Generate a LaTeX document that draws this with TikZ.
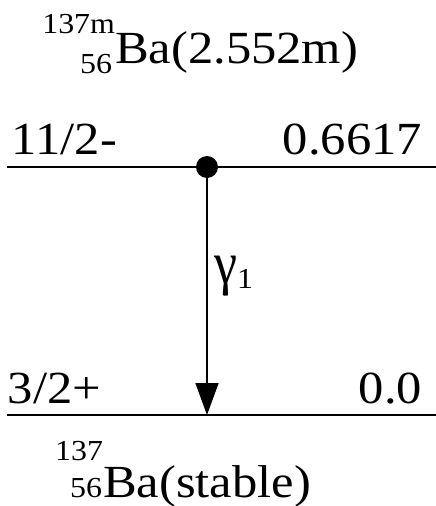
\documentclass[tikz,border=0pt]{standalone}
\usepackage{fontspec}
\usepackage{graphicx}
\setmainfont{Liberation Serif}
\usetikzlibrary{arrows.meta}
\newcommand{\bigtxt}[1]{\scalebox{1.1}[1]{\fontsize{46}{50}\selectfont #1}}
\newcommand{\smalltxt}[1]{\scalebox{1.1}[1]{\fontsize{29}{32}\selectfont #1}}
\newcommand{\gamtxt}[1]{\scalebox{1.0}[1.15]{\fontsize{52}{56}\selectfont #1}}
\tikzset{
  lbl/.style={inner sep=0pt, outer sep=0pt},
  level/.style={line width=1.8pt},
  trans/.style={line width=1.6pt, -{Triangle[length=32pt,width=23pt]}},
}
\begin{document}
\begin{tikzpicture}[x=1pt,y=-1pt]
\useasboundingbox (0,0) rectangle (436,506);
% title
\node[lbl, anchor=base west] (tBa) at (115,63) {\bigtxt{Ba(2.552m)}};
\node[lbl, anchor=base east] (tA) at (115,34) {\smalltxt{137m}};
\node[lbl, anchor=base east] (tZ) at (112,73) {\smalltxt{56}};
% levels
\coordinate (l1a) at (7,167);
\coordinate (l1b) at (436,167);
\coordinate (l0a) at (7,415);
\coordinate (l0b) at (436,415);
\draw[level] (l1a) -- (l1b);
\draw[level] (l0a) -- (l0b);
\node[lbl, anchor=base west] (j1) at (12,154) {\bigtxt{11/2-}};
\node[lbl, anchor=base east] (e1) at (422,154) {\bigtxt{0.6617}};
\node[lbl, anchor=base west] (j0) at (8,403) {\bigtxt{3/2+}};
\node[lbl, anchor=base east] (e0) at (422,403) {\bigtxt{0.0}};
% transition
\coordinate (src) at (207,167);
\coordinate (dst) at (207,415);
\draw[trans] (src) -- (dst);
\fill (src) circle (11pt);
\node[lbl, anchor=base west] (g) at (214,283) {\gamtxt{γ}};
\node[lbl, anchor=base west] (g1) at (237,288) {\smalltxt{1}};
% bottom label
\node[lbl, anchor=base west] (bBa) at (103,497) {\bigtxt{Ba(stable)}};
\node[lbl, anchor=base east] (bA) at (103,460) {\smalltxt{137}};
\node[lbl, anchor=base east] (bZ) at (102,497) {\smalltxt{56}};
\end{tikzpicture}
\end{document}
